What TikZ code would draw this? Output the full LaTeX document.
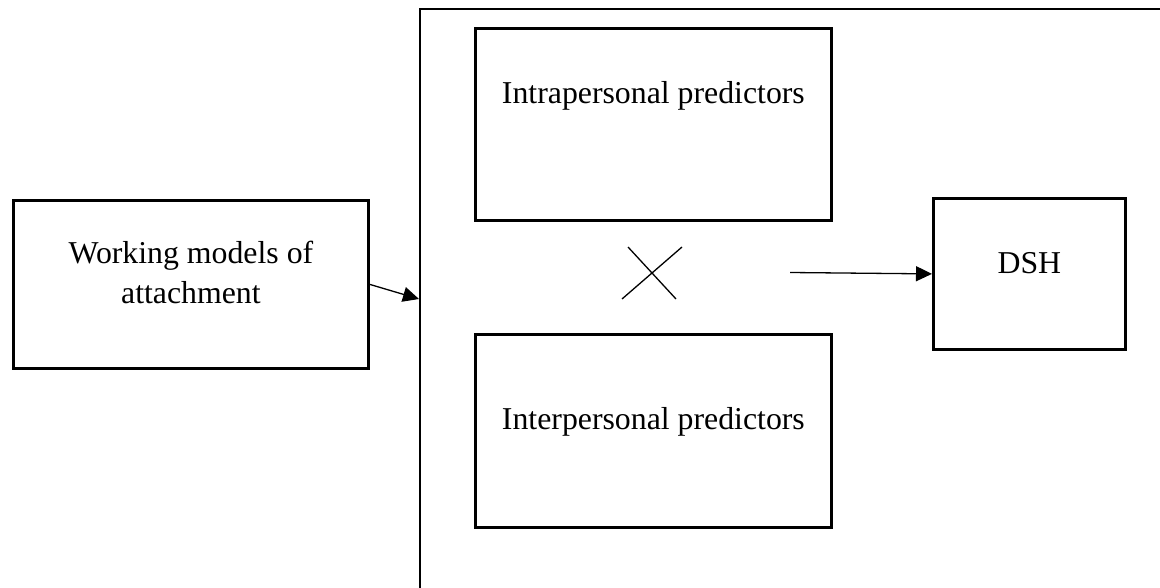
\documentclass[tikz,border=0pt]{standalone}
\usepackage{fontspec}
\setmainfont{Liberation Serif}
\usetikzlibrary{arrows.meta}
\tikzset{
    box/.style={draw,line width=2.8pt,inner sep=0pt,anchor=north west,align=center,font=\fontsize{31.8}{40}\selectfont},
    link/.style={line width=1.3pt,-{Triangle[length=16pt,width=15pt]}},
}

\begin{document}
\begin{tikzpicture}[x=1pt,y=-1pt]
            \useasboundingbox (0,0) rectangle (1160,588);
            \begin{scope}
                \clip (0,0) rectangle (1160,588);
                \draw[line width=2.8pt] (420,9) rectangle (1180,589.6);
            \end{scope}
            \node[box,minimum width=355pt,text height=103pt,text depth=65pt] (wm) at (12,199) {Working models of\\attachment};
            \node[box,minimum width=356pt,text height=75pt,text depth=117pt] (intra) at (474,27) {Intrapersonal predictors};
            \node[box,minimum width=356pt,text height=95pt,text depth=98pt] (inter) at (474,333) {Interpersonal predictors};
            \node[box,minimum width=192pt,text height=75pt,text depth=76pt] (dsh) at (932,197) {DSH};
            \coordinate (frameL) at (419,299);
            \coordinate (fromX) at (790,272.5);
            \draw[line width=1.3pt] (628,247)--(676,299) (682,247)--(622,299);
            \draw[link] (wm.east)--(frameL);
            \draw[link] (fromX)--(dsh.west);
        \end{tikzpicture}
\end{document}
